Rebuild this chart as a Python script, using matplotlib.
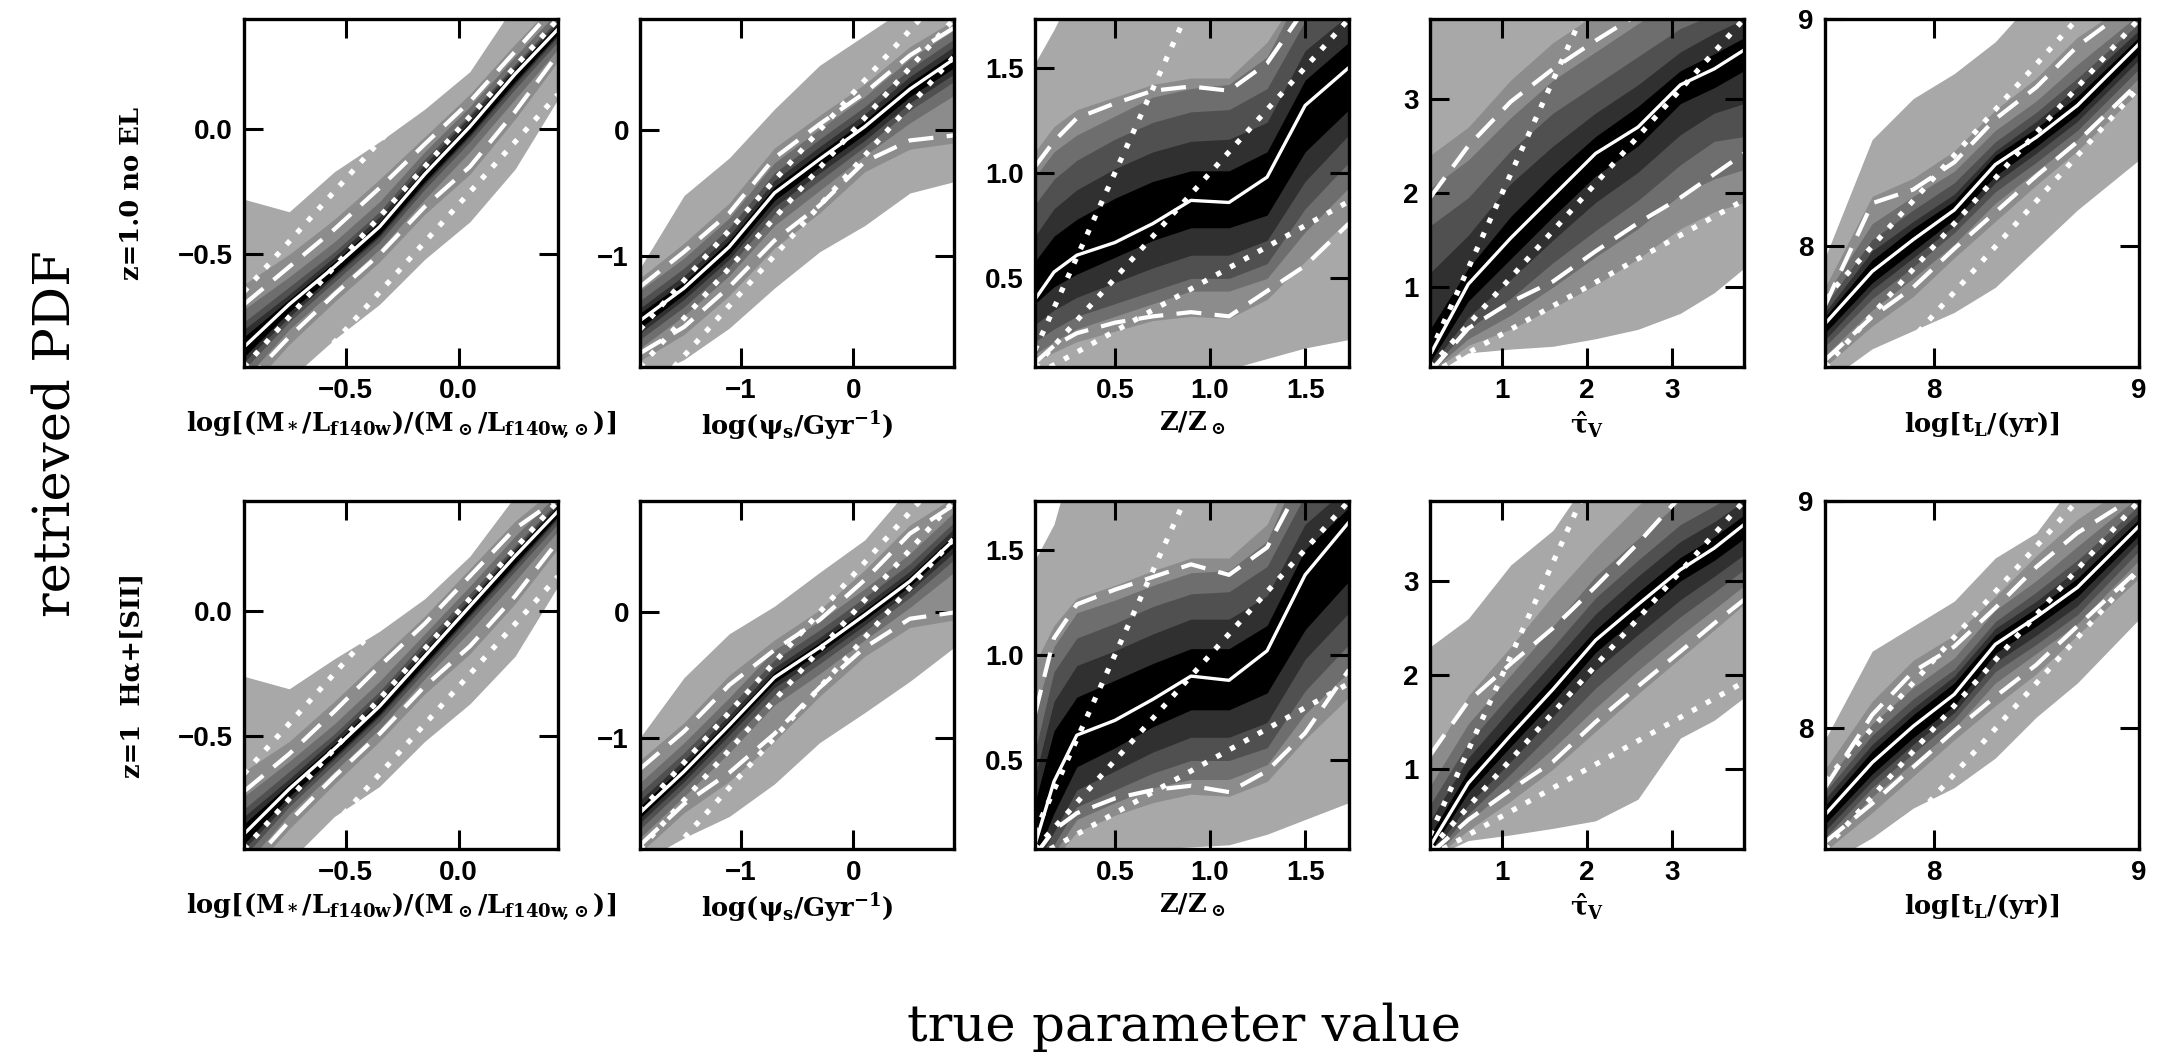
import numpy as np
import matplotlib
matplotlib.use("Agg")
import matplotlib.pyplot as plt
from matplotlib.ticker import FixedLocator

plt.rcParams.update({
    "font.family": "Liberation Sans",
    "font.weight": "bold",
    "mathtext.fontset": "custom",
    "mathtext.rm": "DejaVu Serif:bold",
    "mathtext.it": "DejaVu Serif:bold",
    "mathtext.bf": "DejaVu Serif:bold",
    "mathtext.sf": "DejaVu Sans:bold",
    "axes.unicode_minus": True,
})

# ---------------------------------------------------------------------------
# Retrieved-vs-true summaries. For each parameter: true-value nodes, median,
# 16th/84th percentile (dashed), and six nested probability bands
# (outermost first) given as lower / upper edges.
# Row A: z=1.0 without emission lines; row B: z=1 with Halpha+[SII].
# ---------------------------------------------------------------------------

# log stellar mass-to-light ratio
MSTAR_X = [-0.95, -0.75, -0.55, -0.35, -0.15, 0.05, 0.25, 0.44]
MSTAR_A_MED = [-0.87, -0.70, -0.55, -0.39, -0.18, 0.01, 0.22, 0.40]
MSTAR_A_P84 = [-0.70, -0.55, -0.40, -0.235, -0.06, 0.11, 0.31, 0.50]
MSTAR_A_P16 = [-1.02, -0.83, -0.66, -0.50, -0.31, -0.15, 0.07, 0.30]
MSTAR_A_LO = [[-1.10, -1.00, -0.84, -0.70, -0.52, -0.37, -0.16, 0.12],
              [-1.06, -0.86, -0.69, -0.53, -0.34, -0.18, 0.04, 0.27],
              [-1.00, -0.80, -0.64, -0.48, -0.28, -0.09, 0.12, 0.32],
              [-0.96, -0.77, -0.61, -0.45, -0.24, -0.05, 0.16, 0.35],
              [-0.93, -0.75, -0.59, -0.43, -0.22, -0.03, 0.18, 0.37],
              [-0.91, -0.73, -0.58, -0.42, -0.21, -0.02, 0.19, 0.38]]
MSTAR_A_HI = [[-0.28, -0.33, -0.17, -0.05, 0.08, 0.23, 0.50, 0.60],
              [-0.62, -0.50, -0.36, -0.20, -0.03, 0.14, 0.34, 0.52],
              [-0.72, -0.59, -0.45, -0.29, -0.09, 0.09, 0.29, 0.47],
              [-0.77, -0.63, -0.49, -0.33, -0.12, 0.06, 0.26, 0.44],
              [-0.80, -0.66, -0.51, -0.35, -0.14, 0.05, 0.25, 0.43],
              [-0.83, -0.68, -0.53, -0.37, -0.16, 0.03, 0.24, 0.42]]
MSTAR_B_MED = [-0.89, -0.71, -0.55, -0.38, -0.18, 0.02, 0.22, 0.40]
MSTAR_B_P84 = [-0.72, -0.57, -0.40, -0.22, -0.05, 0.14, 0.33, 0.45]
MSTAR_B_P16 = [-1.04, -0.84, -0.66, -0.49, -0.30, -0.14, 0.06, 0.28]
MSTAR_B_LO = [[-1.10, -1.00, -0.82, -0.70, -0.52, -0.37, -0.18, 0.10],
              [-1.07, -0.87, -0.69, -0.52, -0.33, -0.17, 0.03, 0.25],
              [-1.02, -0.81, -0.64, -0.47, -0.27, -0.08, 0.12, 0.32],
              [-0.98, -0.78, -0.61, -0.44, -0.24, -0.04, 0.16, 0.35],
              [-0.95, -0.76, -0.59, -0.42, -0.22, -0.02, 0.18, 0.37],
              [-0.93, -0.74, -0.58, -0.41, -0.21, -0.01, 0.19, 0.38]]
MSTAR_B_HI = [[-0.26, -0.31, -0.19, -0.08, 0.05, 0.22, 0.46, 0.60],
              [-0.64, -0.52, -0.36, -0.19, -0.02, 0.17, 0.36, 0.50],
              [-0.74, -0.60, -0.45, -0.28, -0.09, 0.10, 0.30, 0.47],
              [-0.79, -0.64, -0.49, -0.32, -0.12, 0.07, 0.26, 0.44],
              [-0.82, -0.67, -0.51, -0.34, -0.14, 0.05, 0.25, 0.43],
              [-0.85, -0.69, -0.53, -0.36, -0.16, 0.04, 0.24, 0.42]]

# log specific star-formation rate
SSFR_X = [-1.89, -1.5, -1.1, -0.7, -0.3, 0.1, 0.5, 0.89]
SSFR_A_MED = [-1.52, -1.26, -0.93, -0.50, -0.23, 0.03, 0.33, 0.57]
SSFR_A_P84 = [-1.25, -0.97, -0.66, -0.22, 0.05, 0.30, 0.60, 0.82]
SSFR_A_P16 = [-1.78, -1.57, -1.25, -0.88, -0.60, -0.25, -0.08, -0.04]
SSFR_A_LO = [[-2.00, -1.83, -1.58, -1.26, -0.97, -0.76, -0.50, -0.41],
             [-1.84, -1.63, -1.32, -0.94, -0.66, -0.33, -0.15, -0.10],
             [-1.74, -1.48, -1.16, -0.76, -0.48, -0.20, 0.06, 0.28],
             [-1.67, -1.41, -1.09, -0.67, -0.40, -0.13, 0.16, 0.39],
             [-1.62, -1.35, -1.03, -0.61, -0.34, -0.08, 0.22, 0.45],
             [-1.58, -1.31, -0.99, -0.56, -0.29, -0.03, 0.27, 0.50]]
SSFR_A_HI = [[-1.10, -0.52, -0.22, 0.17, 0.52, 0.76, 1.00, 1.00],
             [-1.18, -0.90, -0.58, -0.14, 0.12, 0.37, 0.67, 0.88],
             [-1.28, -1.02, -0.70, -0.26, 0.01, 0.27, 0.57, 0.80],
             [-1.36, -1.10, -0.78, -0.34, -0.07, 0.19, 0.49, 0.73],
             [-1.42, -1.16, -0.84, -0.40, -0.13, 0.13, 0.43, 0.67],
             [-1.46, -1.21, -0.88, -0.45, -0.18, 0.08, 0.38, 0.62]]
SSFR_B_MED = [-1.60, -1.27, -0.90, -0.52, -0.28, -0.02, 0.25, 0.58]
SSFR_B_P84 = [-1.25, -0.95, -0.58, -0.30, -0.06, 0.26, 0.63, 0.86]
SSFR_B_P16 = [-1.86, -1.53, -1.28, -0.97, -0.60, -0.28, -0.05, 0.00]
SSFR_B_LO = [[-2.00, -1.80, -1.63, -1.37, -1.04, -0.80, -0.55, -0.28],
             [-1.92, -1.60, -1.35, -1.03, -0.67, -0.35, -0.12, -0.06],
             [-1.80, -1.47, -1.12, -0.74, -0.49, -0.22, 0.04, 0.32],
             [-1.73, -1.40, -1.04, -0.66, -0.41, -0.15, 0.12, 0.42],
             [-1.68, -1.35, -0.98, -0.60, -0.36, -0.10, 0.17, 0.48],
             [-1.64, -1.31, -0.94, -0.56, -0.32, -0.06, 0.21, 0.53]]
SSFR_B_HI = [[-1.00, -0.52, -0.17, 0.05, 0.32, 0.58, 1.00, 1.00],
             [-1.18, -0.88, -0.50, -0.22, 0.02, 0.34, 0.70, 0.92],
             [-1.36, -1.04, -0.68, -0.30, -0.07, 0.19, 0.47, 0.80],
             [-1.44, -1.12, -0.76, -0.38, -0.14, 0.12, 0.39, 0.72],
             [-1.50, -1.18, -0.82, -0.44, -0.20, 0.06, 0.33, 0.67],
             [-1.55, -1.22, -0.86, -0.48, -0.24, 0.02, 0.29, 0.62]]

# metallicity Z/Zsun
METAL_X = [0.08, 0.18, 0.3, 0.5, 0.7, 0.9, 1.1, 1.3, 1.5, 1.73]
METAL_A_MED = [0.40, 0.53, 0.61, 0.67, 0.76, 0.87, 0.86, 0.98, 1.32, 1.50]
METAL_A_P84 = [1.03, 1.15, 1.26, 1.33, 1.39, 1.41, 1.39, 1.52, 1.78, 1.95]
METAL_A_P16 = [0.10, 0.18, 0.24, 0.29, 0.32, 0.34, 0.32, 0.44, 0.56, 0.76]
METAL_A_LO = [[0.00, 0.00, 0.00, 0.00, 0.00, 0.06, 0.07, 0.12, 0.17, 0.21],
              [0.10, 0.15, 0.20, 0.25, 0.30, 0.32, 0.31, 0.40, 0.58, 0.78],
              [0.14, 0.20, 0.26, 0.32, 0.38, 0.44, 0.44, 0.50, 0.72, 0.93],
              [0.20, 0.26, 0.32, 0.38, 0.44, 0.50, 0.50, 0.57, 0.83, 1.05],
              [0.28, 0.35, 0.41, 0.48, 0.55, 0.61, 0.61, 0.68, 0.96, 1.18],
              [0.38, 0.46, 0.52, 0.60, 0.68, 0.74, 0.74, 0.80, 1.10, 1.30]]
METAL_A_HI = [[1.52, 1.68, 1.90, 1.90, 1.90, 1.90, 1.90, 1.90, 1.90, 1.90],
              [1.10, 1.22, 1.30, 1.36, 1.42, 1.45, 1.45, 1.62, 1.90, 1.90],
              [0.98, 1.10, 1.18, 1.27, 1.36, 1.40, 1.42, 1.55, 1.90, 1.90],
              [0.85, 0.97, 1.06, 1.16, 1.24, 1.29, 1.30, 1.40, 1.72, 1.90],
              [0.70, 0.83, 0.92, 1.02, 1.10, 1.15, 1.16, 1.24, 1.58, 1.75],
              [0.58, 0.70, 0.78, 0.88, 0.96, 1.01, 1.01, 1.10, 1.44, 1.62]]
METAL_B_MED = [0.10, 0.40, 0.62, 0.69, 0.79, 0.90, 0.88, 1.02, 1.38, 1.63]
METAL_B_P84 = [0.72, 1.08, 1.24, 1.31, 1.37, 1.43, 1.38, 1.51, 1.85, 2.00]
METAL_B_P16 = [0.05, 0.17, 0.25, 0.32, 0.36, 0.38, 0.35, 0.45, 0.63, 0.93]
METAL_B_LO = [[0.00, 0.00, 0.05, 0.07, 0.08, 0.09, 0.10, 0.15, 0.22, 0.30],
              [0.00, 0.03, 0.16, 0.24, 0.30, 0.34, 0.33, 0.40, 0.60, 0.80],
              [0.00, 0.06, 0.22, 0.30, 0.37, 0.41, 0.41, 0.48, 0.72, 0.92],
              [0.00, 0.10, 0.28, 0.36, 0.44, 0.50, 0.50, 0.56, 0.83, 1.05],
              [0.00, 0.16, 0.36, 0.45, 0.54, 0.61, 0.61, 0.68, 0.98, 1.20],
              [0.03, 0.25, 0.47, 0.56, 0.66, 0.74, 0.74, 0.82, 1.12, 1.35]]
METAL_B_HI = [[1.45, 1.62, 2.00, 2.00, 2.00, 2.00, 2.00, 2.00, 2.00, 2.00],
              [0.96, 1.14, 1.27, 1.33, 1.40, 1.46, 1.46, 1.62, 2.00, 2.00],
              [0.72, 1.04, 1.20, 1.26, 1.33, 1.39, 1.40, 1.54, 1.95, 2.00],
              [0.54, 0.92, 1.08, 1.15, 1.23, 1.29, 1.30, 1.42, 1.76, 1.95],
              [0.42, 0.78, 0.95, 1.02, 1.10, 1.17, 1.17, 1.28, 1.62, 1.80],
              [0.30, 0.64, 0.80, 0.88, 0.96, 1.03, 1.03, 1.14, 1.50, 1.70]]

# V-band dust optical depth
TAUV_X = [0.15, 0.6, 1.1, 1.6, 2.1, 2.6, 3.1, 3.5, 3.85]
TAUV_A_MED = [0.28, 1.03, 1.52, 1.97, 2.42, 2.70, 3.15, 3.32, 3.52]
TAUV_A_P84 = [1.95, 2.50, 2.97, 3.32, 3.62, 3.90, 4.20, 4.20, 4.20]
TAUV_A_P16 = [0.10, 0.56, 0.84, 1.06, 1.38, 1.68, 1.95, 2.20, 2.42]
TAUV_A_LO = [[0.05, 0.30, 0.34, 0.37, 0.45, 0.55, 0.72, 0.94, 1.20],
             [0.08, 0.38, 0.55, 0.78, 1.02, 1.30, 1.62, 1.80, 1.90],
             [0.10, 0.45, 0.70, 1.00, 1.32, 1.62, 1.98, 2.15, 2.25],
             [0.12, 0.55, 0.88, 1.26, 1.60, 1.92, 2.30, 2.55, 2.60],
             [0.15, 0.68, 1.08, 1.50, 1.90, 2.22, 2.62, 2.85, 2.95],
             [0.20, 0.85, 1.30, 1.75, 2.18, 2.50, 2.95, 3.12, 3.30]]
TAUV_A_HI = [[4.20, 4.20, 4.20, 4.20, 4.20, 4.20, 4.20, 4.20, 4.20],
             [2.40, 2.70, 3.20, 3.60, 3.90, 4.20, 4.20, 4.20, 4.20],
             [2.05, 2.35, 2.80, 3.20, 3.50, 3.80, 4.10, 4.20, 4.20],
             [1.65, 1.95, 2.45, 2.85, 3.15, 3.45, 3.75, 3.90, 4.00],
             [1.15, 1.55, 2.10, 2.50, 2.85, 3.15, 3.50, 3.70, 3.85],
             [0.55, 1.20, 1.75, 2.20, 2.60, 2.92, 3.30, 3.48, 3.65]]
TAUV_B_MED = [0.18, 0.85, 1.36, 1.85, 2.37, 2.75, 3.12, 3.35, 3.60]
TAUV_B_P84 = [1.15, 1.72, 2.12, 2.50, 2.94, 3.40, 3.90, 4.20, 4.20]
TAUV_B_P16 = [0.10, 0.46, 0.78, 1.08, 1.50, 1.88, 2.25, 2.55, 2.80]
TAUV_B_LO = [[0.05, 0.24, 0.30, 0.37, 0.45, 0.68, 1.33, 1.52, 1.76],
             [0.02, 0.35, 0.66, 1.00, 1.40, 1.80, 2.18, 2.48, 2.75],
             [0.03, 0.44, 0.82, 1.22, 1.65, 2.05, 2.42, 2.70, 2.95],
             [0.05, 0.52, 0.95, 1.40, 1.86, 2.25, 2.62, 2.88, 3.12],
             [0.08, 0.62, 1.08, 1.56, 2.05, 2.43, 2.80, 3.05, 3.28],
             [0.12, 0.75, 1.24, 1.72, 2.24, 2.62, 3.00, 3.22, 3.45]]
TAUV_B_HI = [[2.30, 2.60, 3.17, 3.54, 4.20, 4.20, 4.20, 4.20, 4.20],
             [1.10, 1.78, 2.30, 2.85, 3.35, 3.80, 4.20, 4.20, 4.20],
             [0.82, 1.48, 2.00, 2.52, 3.05, 3.45, 3.85, 4.00, 4.20],
             [0.62, 1.28, 1.80, 2.30, 2.82, 3.22, 3.60, 3.80, 4.00],
             [0.45, 1.12, 1.64, 2.14, 2.65, 3.05, 3.42, 3.63, 3.85],
             [0.30, 0.98, 1.48, 1.98, 2.48, 2.88, 3.25, 3.47, 3.70]]

# log light-weighted age
AGE_X = [7.47, 7.7, 7.9, 8.1, 8.3, 8.5, 8.7, 9.0]
AGE_A_MED = [7.66, 7.89, 8.03, 8.16, 8.36, 8.48, 8.62, 8.89]
AGE_A_P84 = [7.74, 8.19, 8.25, 8.37, 8.56, 8.70, 8.88, 9.08]
AGE_A_P16 = [7.50, 7.69, 7.82, 7.99, 8.15, 8.31, 8.46, 8.72]
AGE_A_LO = [[7.40, 7.55, 7.63, 7.71, 7.82, 7.99, 8.16, 8.38],
            [7.47, 7.65, 7.78, 7.95, 8.11, 8.27, 8.42, 8.68],
            [7.52, 7.72, 7.86, 8.01, 8.19, 8.33, 8.47, 8.74],
            [7.56, 7.77, 7.91, 8.06, 8.24, 8.37, 8.51, 8.78],
            [7.59, 7.81, 7.95, 8.09, 8.28, 8.41, 8.55, 8.82],
            [7.62, 7.84, 7.98, 8.12, 8.31, 8.44, 8.58, 8.85]]
AGE_A_HI = [[7.95, 8.47, 8.65, 8.76, 8.90, 9.10, 9.10, 9.10],
            [7.82, 8.22, 8.30, 8.42, 8.60, 8.74, 8.92, 9.10],
            [7.78, 8.10, 8.22, 8.33, 8.51, 8.64, 8.80, 9.02],
            [7.74, 8.03, 8.16, 8.28, 8.46, 8.59, 8.74, 8.98],
            [7.71, 7.98, 8.11, 8.23, 8.42, 8.55, 8.70, 8.95],
            [7.69, 7.94, 8.08, 8.20, 8.40, 8.52, 8.66, 8.92]]
AGE_B_MED = [7.62, 7.85, 8.01, 8.15, 8.37, 8.49, 8.62, 8.89]
AGE_B_P84 = [7.74, 8.06, 8.25, 8.36, 8.53, 8.71, 8.86, 9.03]
AGE_B_P16 = [7.50, 7.67, 7.83, 7.99, 8.14, 8.28, 8.45, 8.70]
AGE_B_LO = [[7.40, 7.52, 7.65, 7.74, 7.87, 8.05, 8.20, 8.48],
            [7.46, 7.63, 7.79, 7.95, 8.10, 8.24, 8.41, 8.66],
            [7.49, 7.70, 7.85, 8.00, 8.20, 8.33, 8.46, 8.74],
            [7.52, 7.74, 7.89, 8.04, 8.25, 8.37, 8.50, 8.78],
            [7.55, 7.77, 7.93, 8.07, 8.29, 8.41, 8.54, 8.82],
            [7.58, 7.80, 7.96, 8.10, 8.33, 8.45, 8.58, 8.85]]
AGE_B_HI = [[7.95, 8.34, 8.45, 8.56, 8.75, 8.86, 9.10, 9.10],
            [7.82, 8.12, 8.30, 8.41, 8.58, 8.76, 8.92, 9.10],
            [7.76, 8.02, 8.18, 8.31, 8.52, 8.65, 8.80, 9.02],
            [7.72, 7.97, 8.13, 8.26, 8.47, 8.60, 8.74, 8.98],
            [7.69, 7.93, 8.09, 8.23, 8.44, 8.56, 8.70, 8.95],
            [7.66, 7.90, 8.06, 8.20, 8.41, 8.53, 8.66, 8.92]]

# axis ranges and tick positions
MSTAR_LIM, MSTAR_TICKS = (-0.95, 0.44), [-0.5, 0.0]
SSFR_LIM, SSFR_TICKS = (-1.89, 0.89), [-1, 0]
METAL_LIM, METAL_TICKS = (0.08, 1.73), [0.5, 1.0, 1.5]
TAUV_LIM, TAUV_TICKS = (0.15, 3.85), [1, 2, 3]
AGE_LIM, AGE_TICKS = (7.47, 9.0), [8, 9]

XLABELS = [r"log[(M$_*$/L$_{\rm f140w}$)/(M$_\odot$/L$_{\rm f140w\!,\!\odot}$)]",
           r"log($\psi_{\rm s}$/Gyr$^{-1}$)",
           r"Z/Z$_\odot$",
           r"$\hat{\tau}_{\rm V}$",
           r"log[t$_{\rm L}$/(yr)]"]
ROW_LABELS = ["z=1.0 no EL", "z=1  H\u03b1+[SII]"]

# factor-of-two guide lines: additive in log quantities, multiplicative otherwise
LOG_FACTOR2 = np.log10(2.0)
LIN_FACTORS = [0.5, 1.0, 2.0]

SHADES = ["#a8a8a8", "#8c8c8c", "#6e6e6e", "#505050", "#303030", "#000000"]

PANELS = [
    # (x, lim, ticks, guide, [row A data], [row B data])
    (MSTAR_X, MSTAR_LIM, MSTAR_TICKS, "log",
     (MSTAR_A_MED, MSTAR_A_P16, MSTAR_A_P84, MSTAR_A_LO, MSTAR_A_HI),
     (MSTAR_B_MED, MSTAR_B_P16, MSTAR_B_P84, MSTAR_B_LO, MSTAR_B_HI)),
    (SSFR_X, SSFR_LIM, SSFR_TICKS, "log",
     (SSFR_A_MED, SSFR_A_P16, SSFR_A_P84, SSFR_A_LO, SSFR_A_HI),
     (SSFR_B_MED, SSFR_B_P16, SSFR_B_P84, SSFR_B_LO, SSFR_B_HI)),
    (METAL_X, METAL_LIM, METAL_TICKS, "lin",
     (METAL_A_MED, METAL_A_P16, METAL_A_P84, METAL_A_LO, METAL_A_HI),
     (METAL_B_MED, METAL_B_P16, METAL_B_P84, METAL_B_LO, METAL_B_HI)),
    (TAUV_X, TAUV_LIM, TAUV_TICKS, "lin",
     (TAUV_A_MED, TAUV_A_P16, TAUV_A_P84, TAUV_A_LO, TAUV_A_HI),
     (TAUV_B_MED, TAUV_B_P16, TAUV_B_P84, TAUV_B_LO, TAUV_B_HI)),
    (AGE_X, AGE_LIM, AGE_TICKS, "log",
     (AGE_A_MED, AGE_A_P16, AGE_A_P84, AGE_A_LO, AGE_A_HI),
     (AGE_B_MED, AGE_B_P16, AGE_B_P84, AGE_B_LO, AGE_B_HI)),
]

SERIF = {"family": "DejaVu Serif", "weight": "bold", "size": 18.5}

fig = plt.figure(figsize=(21.77, 10.56), dpi=100)
lefts = [0.1121, 0.2940, 0.4754, 0.6569, 0.8383]
bottoms = [0.6525, 0.1960]
width, height = 0.1442, 0.3295


def draw_panel(ax, x, lim, ticks, guide, stats):
    med, p16, p84, lo, hi = stats
    for shade, l, h in zip(SHADES, lo, hi):
        ax.fill_between(x, l, h, color=shade, lw=0, zorder=1)
    dot = dict(color="white", lw=3.8, ls=(0, (1, 2)), zorder=3)
    if guide == "log":
        for off in (-LOG_FACTOR2, 0.0, LOG_FACTOR2):
            ax.axline((0.0, off), slope=1.0, **dot)
    else:
        for f in LIN_FACTORS:
            ax.axline((0.0, 0.0), slope=f, **dot)
    for q in (p16, p84):
        ax.plot(x, q, color="white", lw=3.0, ls=(0, (6.0, 3.2)), zorder=4)
    ax.plot(x, med, color="white", lw=2.4, zorder=5)
    ax.set_xlim(lim)
    ax.set_ylim(lim)
    ax.xaxis.set_major_locator(FixedLocator(ticks))
    ax.yaxis.set_major_locator(FixedLocator(ticks))
    ax.tick_params(which="major", direction="in", length=14, width=2.2,
                   top=True, right=True, labelsize=20, pad=8)
    for sp in ax.spines.values():
        sp.set_linewidth(2.4)
        sp.set_zorder(6)


for col, (x, lim, ticks, guide, row_a, row_b) in enumerate(PANELS):
    for row, stats in enumerate((row_a, row_b)):
        ax = fig.add_axes([lefts[col], bottoms[row], width, height])
        draw_panel(ax, x, lim, ticks, guide, stats)
        ax.set_xlabel(XLABELS[col], fontdict=SERIF, labelpad=4)

for row, label in enumerate(ROW_LABELS):
    fig.text(0.0606, bottoms[row] + height / 2, label, rotation=90,
             ha="center", va="center", **SERIF)

fig.text(0.0255, 0.589, "retrieved PDF", rotation=90, ha="center", va="center",
         family="DejaVu Serif", weight="normal", size=37)
fig.text(0.544, 0.027, "true parameter value", ha="center", va="center",
         family="DejaVu Serif", weight="normal", size=37)

fig.savefig("out.png", dpi=100)
